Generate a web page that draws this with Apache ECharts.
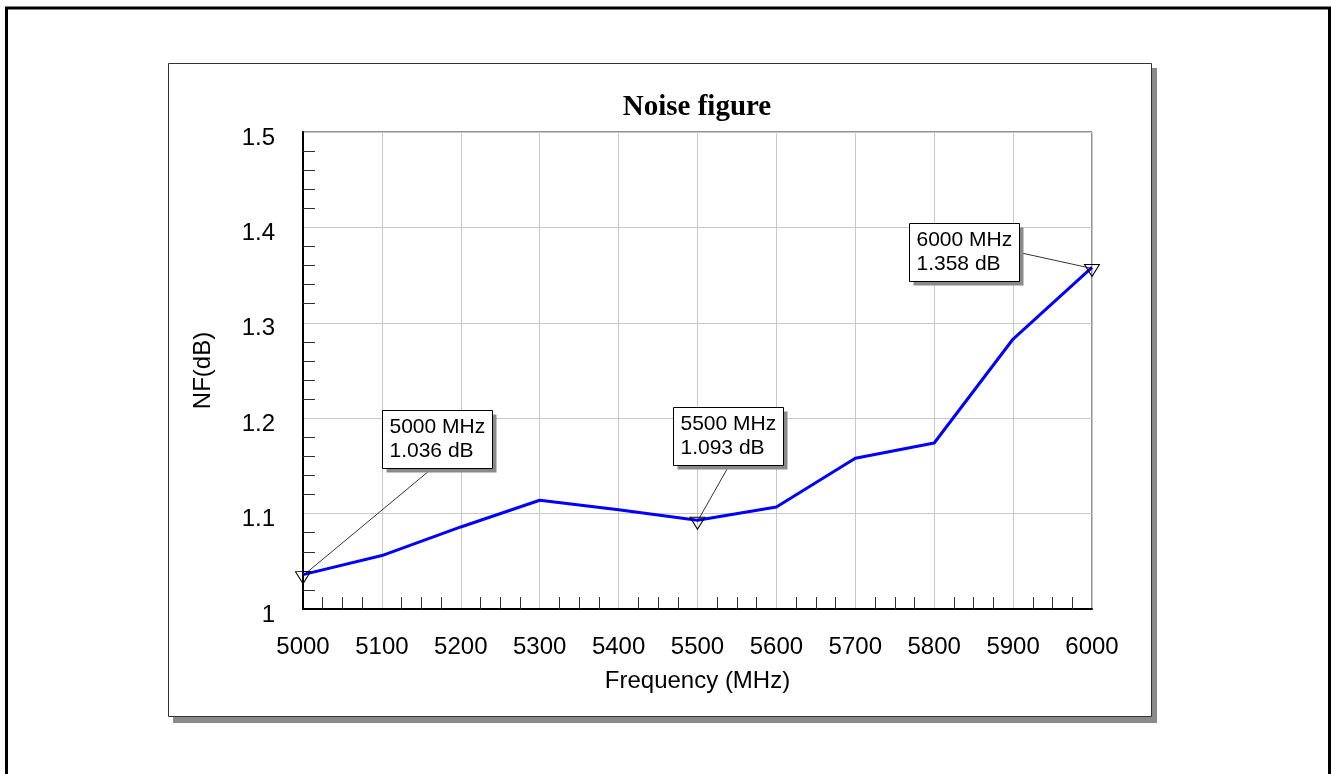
<!DOCTYPE html>
<html>
<head>
<meta charset="utf-8">
<script src="https://cdn.jsdelivr.net/npm/echarts@6/dist/echarts.min.js"></script>
<style>
  html, body { margin: 0; padding: 0; background: #fff; }
  #main { width: 1332px; height: 774px; }
</style>
</head>
<body>
<div id="main"></div>
<script>
// data
const freqs = [5000, 5100, 5200, 5300, 5400, 5500, 5600, 5700, 5800, 5900, 6000]
const nf = [1.036, 1.056, 1.086, 1.114, 1.104, 1.093, 1.107, 1.158, 1.174, 1.283, 1.358]
const markerFreqs = [5000, 5500, 6000]

// annotation box placement, pixels relative to the marked point
const boxPos = [[79, -165], [-25, -113], [-183, -44]]
const leadPos = [[130, -107], [30, -52], [-73, -15]]
const boxW = 110
const boxH = 58

const sans = 'Liberation Sans, Arial, sans-serif'
const myChart = echarts.init(document.getElementById('main'))

let option = {
  animation: false,
  backgroundColor: '#fff',
  title: {
    text: 'Noise figure',
    left: 697,
    top: 93,
    textAlign: 'center',
    padding: 0,
    textStyle: {
      fontFamily: 'Liberation Serif, Times New Roman, serif',
      fontWeight: 'bold',
      fontSize: 29,
      color: '#000'
    }
  },
  grid: {
    left: 303,
    right: 240,
    top: 132,
    bottom: 165,
    show: true,
    borderColor: '#222',
    borderWidth: 1,
    backgroundColor: 'transparent'
  },
  xAxis: {
    type: 'value',
    min: 5000,
    max: 6000,
    interval: 100,
    name: 'Frequency (MHz)',
    nameLocation: 'middle',
    nameGap: 60,
    nameTextStyle: { fontFamily: sans, fontSize: 24, color: '#000' },
    axisLine: { show: true, lineStyle: { color: '#000', width: 2 } },
    axisTick: { show: false, inside: true },
    minorTick: { show: true, splitNumber: 4, length: 12, lineStyle: { color: '#333', width: 1 } },
    axisLabel: { margin: 26, fontFamily: sans, fontSize: 24, color: '#000', formatter: v => String(v) },
    splitLine: { show: true, lineStyle: { color: '#c8c8c8', width: 1 } }
  },
  yAxis: {
    type: 'value',
    min: 1,
    max: 1.5,
    interval: 0.1,
    name: 'NF(dB)',
    nameLocation: 'middle',
    nameGap: 88,
    nameTextStyle: { fontFamily: sans, fontSize: 24, color: '#000' },
    axisLine: { show: true, lineStyle: { color: '#000', width: 2 } },
    axisTick: { show: false, inside: true },
    minorTick: { show: true, splitNumber: 5, length: 12, lineStyle: { color: '#333', width: 1 } },
    axisLabel: {
      margin: 28, fontFamily: sans, fontSize: 24, color: '#000',
      verticalAlign: 'top', lineHeight: 12
    },
    splitLine: { show: true, lineStyle: { color: '#c8c8c8', width: 1 } }
  },
  series: [
    {
      type: 'line',
      data: freqs.map((f, i) => [f, nf[i]]),
      symbol: 'none',
      lineStyle: { color: '#0000ff', width: 3 },
      z: 3,
      markPoint: {
        symbol: 'triangle',
        symbolSize: [15, 12],
        symbolRotate: 180,
        symbolOffset: [0, 3],
        itemStyle: { color: 'rgba(255,255,255,0)', borderColor: '#000', borderWidth: 1 },
        label: { show: false },
        data: markerFreqs.map(f => ({ coord: [f, nf[freqs.indexOf(f)]] }))
      }
    }
  ]
}
myChart.setOption(option)

// frame, panel and annotation boxes
let graphics = [
  {
    type: 'rect',
    z: -1,
    shape: { x: 6.5, y: 8, width: 1323, height: 900 },
    style: { fill: 'none', stroke: '#000', lineWidth: 3 }
  },
  {
    type: 'rect',
    z: -2,
    shape: { x: 173, y: 68, width: 984, height: 655 },
    style: { fill: '#8a8a8a', stroke: null }
  },
  {
    type: 'rect',
    z: -1,
    shape: { x: 168.5, y: 63.5, width: 983, height: 653 },
    style: { fill: '#fff', stroke: '#333', lineWidth: 1 }
  }
]
markerFreqs.forEach((f, i) => {
  const v = nf[freqs.indexOf(f)]
  const p = myChart.convertToPixel({ gridIndex: 0 }, [f, v])
  const bx = Math.round(p[0] + boxPos[i][0]) + 0.5
  const by = Math.round(p[1] + boxPos[i][1]) + 0.5
  graphics.push({
    type: 'line',
    z: 50,
    shape: { x1: p[0] + leadPos[i][0], y1: p[1] + leadPos[i][1], x2: p[0], y2: p[1] + 1 },
    style: { stroke: '#000', lineWidth: 0.8 }
  })
  graphics.push({
    type: 'rect',
    z: 50,
    shape: { x: bx + 4, y: by + 4, width: boxW, height: boxH },
    style: { fill: '#8a8a8a', stroke: null }
  })
  graphics.push({
    type: 'rect',
    z: 51,
    shape: { x: bx, y: by, width: boxW, height: boxH },
    style: { fill: '#fff', stroke: '#000', lineWidth: 1 }
  })
  graphics.push({
    type: 'text',
    z: 52,
    x: bx + 7,
    y: by + 17,
    style: { text: f + ' MHz', font: '21px ' + sans, fill: '#000', verticalAlign: 'middle' }
  })
  graphics.push({
    type: 'text',
    z: 52,
    x: bx + 7,
    y: by + 41,
    style: { text: v.toFixed(3) + ' dB', font: '21px ' + sans, fill: '#000', verticalAlign: 'middle' }
  })
})
myChart.setOption({ graphic: graphics })
</script>
</body>
</html>
